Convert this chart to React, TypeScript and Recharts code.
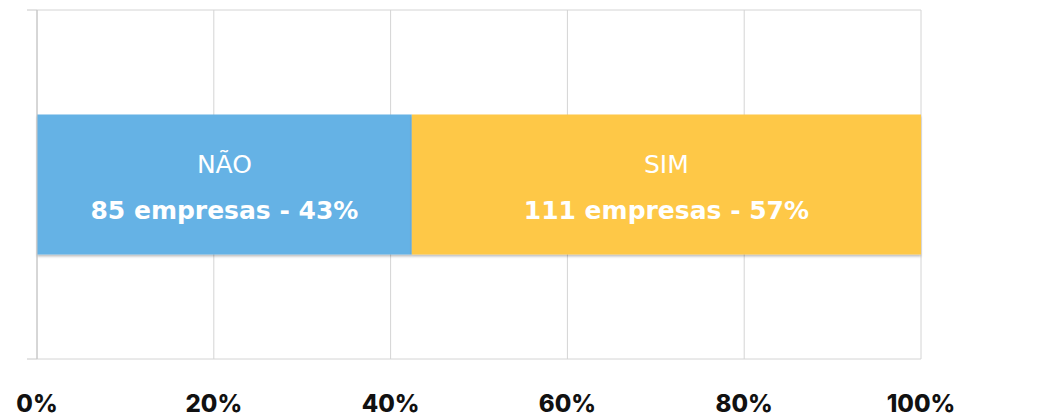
import React from "react";
import {
  BarChart,
  Bar,
  XAxis,
  YAxis,
  CartesianGrid
} from "recharts";

// one row, two stacked segments
const categories = ["Empresas"];
const seriesNames = ["NÃO", "SIM"];
const companyCounts = [85, 111];
const shareLabels = ["43%", "57%"];
// segment widths (percent of axis)
const shareValues = [42.4, 57.6];
const xTicks = [0, 20, 40, 60, 80, 100];
const seriesColors = ["#65B2E5", "#FEC846"];

// the single row sits in the middle of a 0..1 vertical axis
const chartData = categories.map(name => ({
  name,
  pos: 0.5,
  nao: shareValues[0],
  sim: shareValues[1]
}));

const labelFont = "'DejaVu Sans', 'Open Sans', sans-serif";

const makeShape = (idx: number) => (props: any) => {
  const { x, y, width, height } = props;
  const cx = x + width / 2;
  const cy = y + height / 2;
  return (
    <g>
      <rect x={x} y={y} width={width} height={height} fill={seriesColors[idx]} filter="url(#barShadow)" />
      <text x={cx} y={cy - 12} textAnchor="middle" fill="#fff" fontFamily={labelFont} fontSize={25} fontWeight={400}>
        {seriesNames[idx]}
      </text>
      <text x={cx} y={cy + 34} textAnchor="middle" fill="#fff" fontFamily={labelFont} fontSize={25} fontWeight={700}>
        {`${companyCounts[idx]} empresas - ${shareLabels[idx]}`}
      </text>
    </g>
  );
};

const XTick = (props: any) => {
  const { x, payload } = props;
  return (
    <text x={x} y={404} textAnchor="middle" fill="#111" fontFamily="Inter, 'DejaVu Sans', sans-serif" fontSize={24} fontWeight={800}>
      {`${payload.value}%`}
    </text>
  );
};

const NoLabel = () => <g />;

export default function App() {
  return (
    <BarChart
      width={1041}
      height={408}
      data={chartData}
      layout="vertical"
      barSize={140}
      margin={{ top: 2, right: 128, left: 0, bottom: 0 }}
    >
      <defs>
        <filter id="barShadow" x="-5%" y="-10%" width="110%" height="130%">
          <feDropShadow dx="0" dy="2" stdDeviation="1" floodColor="#000" floodOpacity="0.25" />
        </filter>
      </defs>
      <CartesianGrid stroke="#d4d4d4" strokeWidth={1} />
      <XAxis
        type="number"
        domain={[0, 100]}
        ticks={xTicks}
        axisLine={false}
        tickLine={false}
        height={57}
        tick={<XTick />}
        interval={0}
      />
      <YAxis
        type="number"
        dataKey="pos"
        domain={[0, 1]}
        ticks={[0, 1]}
        interval={0}
        width={29}
        tickSize={10}
        tickLine={{ stroke: "#c8c8c8" }}
        axisLine={{ stroke: "#c4c4c4" }}
        tick={<NoLabel />}
      />
      <Bar dataKey="nao" stackId="a" isAnimationActive={false} shape={makeShape(0)} />
      <Bar dataKey="sim" stackId="a" isAnimationActive={false} shape={makeShape(1)} />
    </BarChart>
  );
}
